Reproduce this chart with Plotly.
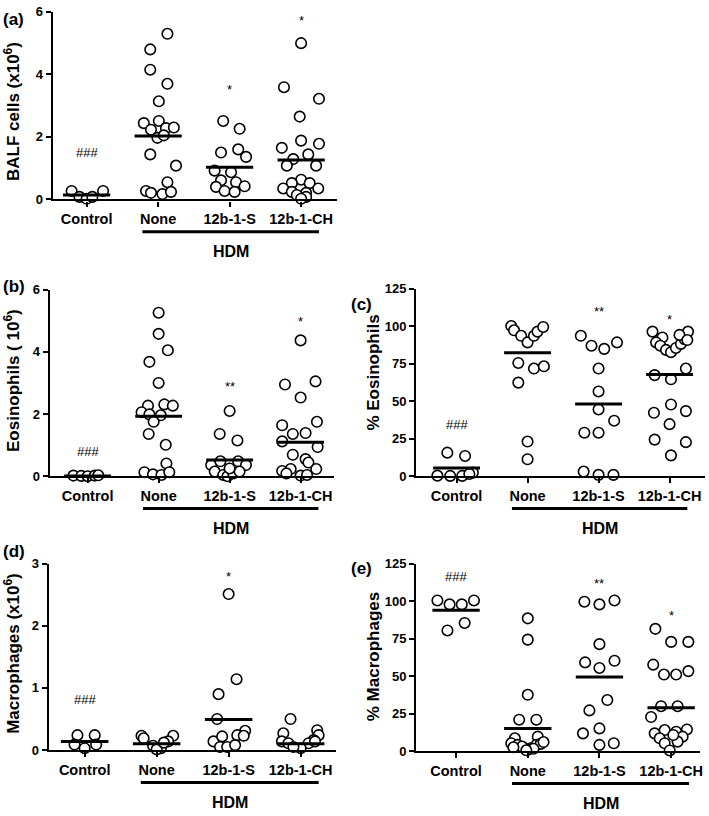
import plotly.graph_objects as go

categories = ["Control", "None", "12b-1-S", "12b-1-CH"]

# ---------------- Panel (a): BALF cells (x10^6)
a_control = [0.27, 0.08, 0.02, 0.08, 0.27]
a_control_jit = [-0.21, -0.10, 0.0, 0.08, 0.23]
a_none = [5.30, 4.80, 4.15, 3.70, 3.14, 2.44, 2.51, 2.23, 2.28, 2.30, 1.97, 2.05, 1.44, 1.08, 0.55, 0.27, 0.21, 0.17, 0.24]
a_none_jit = [0.13, -0.11, -0.11, 0.13, 0.01, -0.2, 0.01, -0.1, 0.11, 0.22, -0.01, 0.08, -0.11, 0.25, 0.13, -0.17, -0.1, 0.06, 0.18]
a_s = [2.51, 2.26, 1.50, 1.60, 1.36, 0.92, 0.87, 0.61, 0.55, 0.40, 0.42, 0.27, 0.24]
a_s_jit = [-0.09, 0.14, -0.12, 0.12, 0.23, -0.21, 0.02, -0.12, 0.09, -0.19, 0.21, -0.07, 0.07]
a_ch = [5.0, 3.59, 3.22, 2.65, 1.88, 1.78, 1.65, 1.44, 1.29, 1.08, 1.08, 0.63, 0.52, 0.52, 0.35, 0.35, 0.24, 0.21, 0.14, 0.08, 0.02]
a_ch_jit = [0, -0.24, 0.25, -0.02, 0, 0.25, -0.27, 0.1, -0.11, -0.2, 0.21, 0, -0.13, 0.12, -0.25, 0.24, -0.13, 0.07, -0.06, 0.07, 0]
a_means = [0.14, 2.03, 1.03, 1.26]
a_sig = ["###", "", "*", "*"]
a_sig_y = [1.50, None, 3.52, 5.74]

# ---------------- Panel (b): Eosinophils (10^6)
b_control = [0.02, 0.01, 0.0, 0.02, 0.03]
b_control_jit = [-0.2, -0.09, 0, 0.1, 0.15]
b_none = [5.26, 4.58, 4.05, 3.68, 3.0, 2.27, 2.31, 2.27, 2.06, 1.99, 1.96, 1.75, 1.36, 1.01, 0.41, 0.13, 0.06, 0.04, 0.13]
b_none_jit = [0, 0, 0.13, -0.13, 0, -0.15, 0.08, 0.2, -0.24, -0.13, 0.03, -0.07, -0.14, 0.1, 0.11, -0.2, -0.08, 0.04, 0.15]
b_s = [2.10, 1.36, 1.15, 0.36, 0.48, 0.48, 0.36, 0.15, 0.04, 0.0, 0.09, 0.15, 0.25]
b_s_jit = [0, -0.14, 0.11, -0.26, -0.13, 0.12, 0.23, -0.21, -0.09, -0.03, 0.05, 0.14, 0]
b_ch = [4.37, 2.95, 3.05, 2.53, 1.64, 1.75, 1.36, 1.39, 1.12, 0.94, 0.69, 0.55, 0.44, 0.17, 0.23, 0.23, 0.09, 0.02, 0.04]
b_ch_jit = [0, -0.22, 0.21, 0, -0.26, 0.23, -0.11, 0.07, -0.26, 0.24, -0.11, 0.07, 0.11, -0.26, -0.14, 0.22, -0.2, 0, 0.09]
b_means = [0.01, 1.93, 0.52, 1.09]
b_sig = ["###", "", "**", "*"]
b_sig_y = [0.80, None, 2.88, 4.97]

# ---------------- Panel (c): % Eosinophils
c_control = [15.7, 13.5, 0.4, 0.2, 0.2, 2.4, 1.5]
c_control_jit = [-0.13, 0.12, -0.27, -0.09, 0.08, 0.23, 0.18]
c_none = [100.1, 97.3, 93.6, 89.2, 93.6, 96.4, 99.5, 75.5, 71.8, 73.3, 62.4, 23.1, 11.3]
c_none_jit = [-0.23, -0.19, -0.09, 0, 0.09, 0.14, 0.22, -0.13, 0.09, 0.23, -0.13, 0, 0]
c_s = [93.6, 87.0, 84.9, 89.2, 71.8, 56.5, 44.5, 37.0, 29.0, 29.0, 3.1, 0.9, 0.9]
c_s_jit = [-0.25, -0.1, 0.08, 0.26, 0, 0, 0, 0.22, -0.2, 0, -0.21, 0, 0.21]
c_ch = [96.4, 92.5, 89.2, 87.0, 84.2, 82.7, 85.5, 88.2, 91.4, 96.4, 94.2, 90.8, 67.4, 64.6, 71.8, 47.8, 42.3, 43.4, 34.7, 24.4, 22.7, 13.9]
c_ch_jit = [-0.24, -0.1, -0.19, -0.13, -0.05, 0.02, 0.09, 0.16, 0.21, 0.26, 0.14, 0.25, -0.21, 0.02, 0.23, 0.02, -0.22, 0.23, 0.0, -0.21, 0.23, 0.02]
c_means = [5.5, 82.3, 48.2, 67.8]
c_sig = ["###", "", "**", "*"]
c_sig_y = [34.7, None, 110.0, 104.7]

# ---------------- Panel (d): Macrophages (x10^6)
d_control = [0.24, 0.24, 0.09, 0.09, 0.03]
d_control_jit = [-0.1, 0.14, -0.14, 0.16, 0]
d_none = [0.23, 0.19, 0.23, 0.14, 0.07, 0.03, 0.01, 0.12]
d_none_jit = [-0.21, -0.18, 0.23, 0.16, -0.05, 0.06, 0, 0.1]
d_s = [2.51, 1.14, 0.90, 0.50, 0.31, 0.14, 0.22, 0.24, 0.23, 0.05, 0.05, 0.08]
d_s_jit = [0, 0.11, -0.14, -0.16, 0.23, -0.21, -0.09, 0.12, 0.21, -0.12, -0.02, 0.09]
d_ch = [0.50, 0.27, 0.32, 0.24, 0.14, 0.11, 0.16, 0.11, 0.03, 0.05, 0.14]
d_ch_jit = [-0.14, -0.24, 0.23, 0.25, -0.26, -0.17, 0.18, 0.11, 0, -0.1, 0.2]
d_means = [0.14, 0.10, 0.49, 0.10]
d_sig = ["###", "", "*", ""]
d_sig_y = [0.81, None, 2.80, None]

# ---------------- Panel (e): % Macrophages
e_control = [100.4, 97.8, 97.8, 100.4, 80.4, 85.4]
e_control_jit = [-0.26, -0.09, 0.08, 0.25, -0.12, 0.12]
e_none = [88.5, 74.3, 37.5, 20.9, 20.9, 8.5, 9.6, 5.2, 4.1, 2.0, 2.0, 4.1, 4.8, 0.9, 3.0, 1.5, 6.0, 2.5, 0.5]
e_none_jit = [0, 0, 0, -0.12, 0.12, -0.18, 0.14, -0.23, -0.14, -0.05, 0.05, 0.12, 0.18, 0, -0.08, 0.08, 0.22, -0.2, -0.02]
e_s = [99.6, 97.8, 100.4, 71.3, 59.1, 55.4, 60.2, 34.0, 27.1, 15.1, 11.8, 4.1, 5.2]
e_s_jit = [-0.21, 0, 0.21, 0, -0.2, 0, 0.21, 0.11, -0.14, 0, -0.23, 0, 0.2]
e_ch = [81.5, 72.8, 72.8, 57.6, 51.0, 51.0, 53.3, 29.9, 29.9, 22.7, 11.8, 14.0, 12.9, 14.4, 8.5, 9.6, 5.2, 6.3, 0.4, 10.7]
e_ch_jit = [-0.22, 0, 0.24, -0.25, -0.1, 0.07, 0.24, -0.14, 0.09, -0.28, -0.23, -0.09, 0.07, 0.22, -0.16, 0.16, -0.09, 0.09, -0.02, 0.03]
e_means = [93.9, 15.0, 49.3, 28.8]
e_sig = ["###", "", "**", "*"]
e_sig_y = [116.5, None, 111.7, 90.3]

group_label = "HDM"

panels = [
    dict(label="(a)", title="BALF cells (x10<sup>6</sup>)", ymax=6, dtick=2,
         groups=[(a_control, a_control_jit), (a_none, a_none_jit), (a_s, a_s_jit), (a_ch, a_ch_jit)],
         means=a_means, sig=a_sig, sig_y=a_sig_y,
         L=53, R=338, cat0=87, sp=71.8, y0=196, ytop=5,
         lab_xy=(1, 13), tit_xy=(12, 106)),
    dict(label="(b)", title="Eosinophils ( 10<sup>6</sup>)", ymax=6, dtick=2,
         groups=[(b_control, b_control_jit), (b_none, b_none_jit), (b_s, b_s_jit), (b_ch, b_ch_jit)],
         means=b_means, sig=b_sig, sig_y=b_sig_y,
         L=50, R=335, cat0=88, sp=71.3, y0=478, ytop=288,
         lab_xy=(1, 285), tit_xy=(12, 380)),
    dict(label="(c)", title="% Eosinophils", ymax=125, dtick=25,
         groups=[(c_control, c_control_jit), (c_none, c_none_jit), (c_s, c_s_jit), (c_ch, c_ch_jit)],
         means=c_means, sig=c_sig, sig_y=c_sig_y,
         L=418, R=708, cat0=458.5, sp=71.3, y0=478, ytop=287,
         lab_xy=(350, 303), tit_xy=(375, 372)),
    dict(label="(d)", title="Macrophages (x10<sup>6</sup>)", ymax=3, dtick=1,
         groups=[(d_control, d_control_jit), (d_none, d_none_jit), (d_s, d_s_jit), (d_ch, d_ch_jit)],
         means=d_means, sig=d_sig, sig_y=d_sig_y,
         L=49, R=337, cat0=85, sp=72.3, y0=757, ytop=567,
         lab_xy=(1, 555), tit_xy=(12, 658)),
    dict(label="(e)", title="% Macrophages", ymax=125, dtick=25,
         groups=[(e_control, e_control_jit), (e_none, e_none_jit), (e_s, e_s_jit), (e_ch, e_ch_jit)],
         means=e_means, sig=e_sig, sig_y=e_sig_y,
         L=418, R=703, cat0=458, sp=72.0, y0=758, ytop=567,
         lab_xy=(350, 572), tit_xy=(375, 662)),
]

W, H = 709, 816
FONT = "Liberation Sans, Arial, sans-serif"

def px(x):
    return x / W

def py(y):
    return 1 - y / H

fig = go.Figure()
layout = dict(width=W, height=H, margin=dict(l=0, r=0, t=0, b=0),
              paper_bgcolor="white", plot_bgcolor="rgba(0,0,0,0)", showlegend=False,
              font=dict(family=FONT, color="black"))
annotations = []
shapes = []

for i, p in enumerate(panels, start=1):
    xa = "x" if i == 1 else f"x{i}"
    ya = "y" if i == 1 else f"y{i}"
    xkey = "xaxis" if i == 1 else f"xaxis{i}"
    ykey = "yaxis" if i == 1 else f"yaxis{i}"
    xr = [(p["L"] - p["cat0"]) / p["sp"], (p["R"] - p["cat0"]) / p["sp"]]
    layout[xkey] = dict(domain=[px(p["L"]), px(p["R"])], range=xr, anchor=ya,
                        showline=True, linewidth=2.4, linecolor="black", mirror=False,
                        ticks="outside", ticklen=5, tickwidth=2, tickcolor="black",
                        tickvals=list(range(len(categories))), ticktext=categories,
                        tickfont=dict(family=FONT, size=14.5, color="black", weight="bold"),
                        ticklabeloverflow="allow",
                        showgrid=False, zeroline=False, fixedrange=True)
    layout[ykey] = dict(domain=[py(p["y0"]), py(p["ytop"])], range=[0, p["ymax"]], anchor=xa,
                        showline=True, linewidth=2.2, linecolor="black",
                        ticks="outside", ticklen=5, tickwidth=2, tickcolor="black",
                        tick0=0, dtick=p["dtick"],
                        tickfont=dict(family=FONT, size=13, color="black", weight="bold"),
                        showgrid=False, zeroline=False, fixedrange=True)
    # points
    for gi, (vals, jit) in enumerate(p["groups"]):
        fig.add_trace(go.Scatter(
            x=[gi + j for j in jit], y=vals, mode="markers", xaxis=xa, yaxis=ya,
            marker=dict(symbol="circle", size=10.5, color="white",
                        line=dict(color="black", width=1.6)),
            cliponaxis=False, hoverinfo="skip"))
    # mean lines
    mx, my = [], []
    for gi, m in enumerate(p["means"]):
        mx += [gi - 0.33, gi + 0.33, None]
        my += [m, m, None]
    fig.add_trace(go.Scatter(x=mx, y=my, mode="lines", xaxis=xa, yaxis=ya,
                             line=dict(color="black", width=3), cliponaxis=False,
                             hoverinfo="skip"))
    # significance labels
    for gi, (s, sy) in enumerate(zip(p["sig"], p["sig_y"])):
        if s and sy is not None:
            annotations.append(dict(x=gi, y=sy, xref=xa, yref=ya, text=s, showarrow=False,
                                    xanchor="center", yanchor="middle",
                                    font=dict(family=FONT, size=13, color="black")))
    # HDM bar & label
    shapes.append(dict(type="line", xref=xa, yref="paper", x0=0.78, x1=3.25,
                       y0=py(p["y0"] + 33), y1=py(p["y0"] + 33),
                       line=dict(color="black", width=3)))
    annotations.append(dict(x=2.02, y=py(p["y0"] + 53), xref=xa, yref="paper", text=group_label,
                            showarrow=False, xanchor="center", yanchor="middle",
                            font=dict(family=FONT, size=16, color="black", weight="bold")))
    # panel label
    annotations.append(dict(x=px(p["lab_xy"][0]), y=py(p["lab_xy"][1]), xref="paper", yref="paper",
                            text=p["label"], showarrow=False, xanchor="left", yanchor="middle",
                            font=dict(family=FONT, size=17, color="black", weight="bold")))
    # y title
    annotations.append(dict(x=px(p["tit_xy"][0]), y=py(p["tit_xy"][1]), xref="paper", yref="paper",
                            text=p["title"], showarrow=False, textangle=-90,
                            xanchor="center", yanchor="middle",
                            font=dict(family=FONT, size=17, color="black", weight="bold")))

layout["annotations"] = annotations
layout["shapes"] = shapes
fig.update_layout(**layout)
fig.write_html("out.html", config={"displayModeBar": False},
               post_script="document.body.style.margin='0';document.body.style.overflow='hidden';")
